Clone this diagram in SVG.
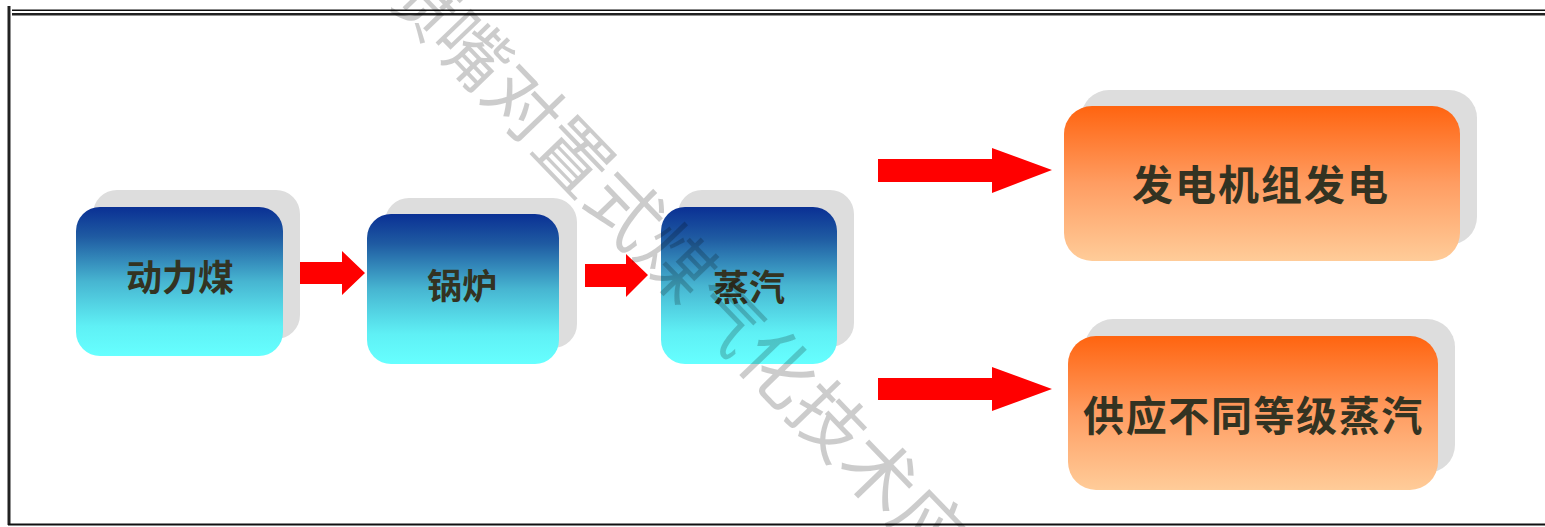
<svg xmlns="http://www.w3.org/2000/svg" width="1545" height="527" viewBox="0 0 1545 527">
  <style>
    .shadow { fill: #dddddd; }
    .blue { fill: url(#gBlue); }
    .orange { fill: url(#gOrange); }
    .lbl { font-family: "Noto Sans CJK SC", "Noto Sans", sans-serif; font-weight: 700; fill: #333322; text-anchor: middle; }
    .arrow { fill: #ff0000; }
    .wm { font-family: "Noto Sans CJK SC", "Noto Sans", sans-serif; font-size: 73.4px; fill: #000000; fill-opacity: 0.2; }
  </style>
  <defs>
    <linearGradient id="gBlue" x1="0" y1="0" x2="0" y2="1">
      <stop offset="0" stop-color="#0a3094"/>
      <stop offset="0.2" stop-color="#1f5ba2"/>
      <stop offset="0.5" stop-color="#47b5d1"/>
      <stop offset="0.8" stop-color="#5ff0f5"/>
      <stop offset="1" stop-color="#66ffff"/>
    </linearGradient>
    <linearGradient id="gOrange" x1="0" y1="0" x2="0" y2="1">
      <stop offset="0" stop-color="#ff6410"/>
      <stop offset="0.5" stop-color="#ff9d62"/>
      <stop offset="1" stop-color="#ffcc99"/>
    </linearGradient>
  </defs>

  <rect x="0" y="0" width="1545" height="527" fill="#ffffff"/>

  <g id="frame" fill="none">
    <line x1="9" y1="6" x2="9" y2="525" stroke="#222222" stroke-width="3"/>
    <line x1="12" y1="10.3" x2="1545" y2="10.3" stroke="#111111" stroke-width="1.6"/>
    <line x1="12" y1="14.3" x2="1545" y2="14.3" stroke="#222222" stroke-width="2.6"/>
    <line x1="8" y1="524.5" x2="1545" y2="524.5" stroke="#111111" stroke-width="2"/>
  </g>

  <g id="node-coal">
    <rect class="shadow" x="93" y="190" width="207" height="149" rx="24"/>
    <rect class="blue" x="76" y="207" width="207" height="149" rx="24"/>
    <text class="lbl" x="180" y="290.5" font-size="36">动力煤</text>
  </g>

  <g id="node-boiler">
    <rect class="shadow" x="385" y="198" width="192" height="150" rx="24"/>
    <rect class="blue" x="367" y="214" width="192" height="150" rx="24"/>
    <text class="lbl" x="462" y="298.5" font-size="35">锅炉</text>
  </g>

  <g id="node-steam">
    <rect class="shadow" x="678" y="190" width="176" height="157" rx="24"/>
    <rect class="blue" x="661" y="207" width="176" height="157" rx="24"/>
    <text class="lbl" x="749" y="301" font-size="36">蒸汽</text>
  </g>

  <g id="node-power">
    <rect class="shadow" x="1081" y="90" width="396" height="155" rx="28"/>
    <rect class="orange" x="1064" y="106" width="396" height="155" rx="28"/>
    <text class="lbl" x="1261" y="200" font-size="41" letter-spacing="2">发电机组发电</text>
  </g>

  <g id="node-supply">
    <rect class="shadow" x="1085" y="319" width="370" height="154" rx="28"/>
    <rect class="orange" x="1068" y="336" width="370" height="154" rx="28"/>
    <text class="lbl" x="1253.5" y="430.5" font-size="41" letter-spacing="1.6">供应不同等级蒸汽</text>
  </g>

  <g id="connectors">
    <polygon class="arrow" points="300,262 342,262 342,251 365,273 342,295 342,284 300,284"/>
    <polygon class="arrow" points="585,264 626,264 626,254 648,275 626,297 626,287 585,287"/>
    <polygon class="arrow" points="878,159 992,159 992,148 1052,170 992,193 992,182 878,182"/>
    <polygon class="arrow" points="878,378 992,378 992,367 1052,389 992,411 992,400 878,400"/>
  </g>

  <g id="watermark" transform="translate(473,50) rotate(46.1)">
    <text class="wm" x="-110.1" y="27.7">喷嘴对置式煤气化技术应</text>
  </g>
</svg>
